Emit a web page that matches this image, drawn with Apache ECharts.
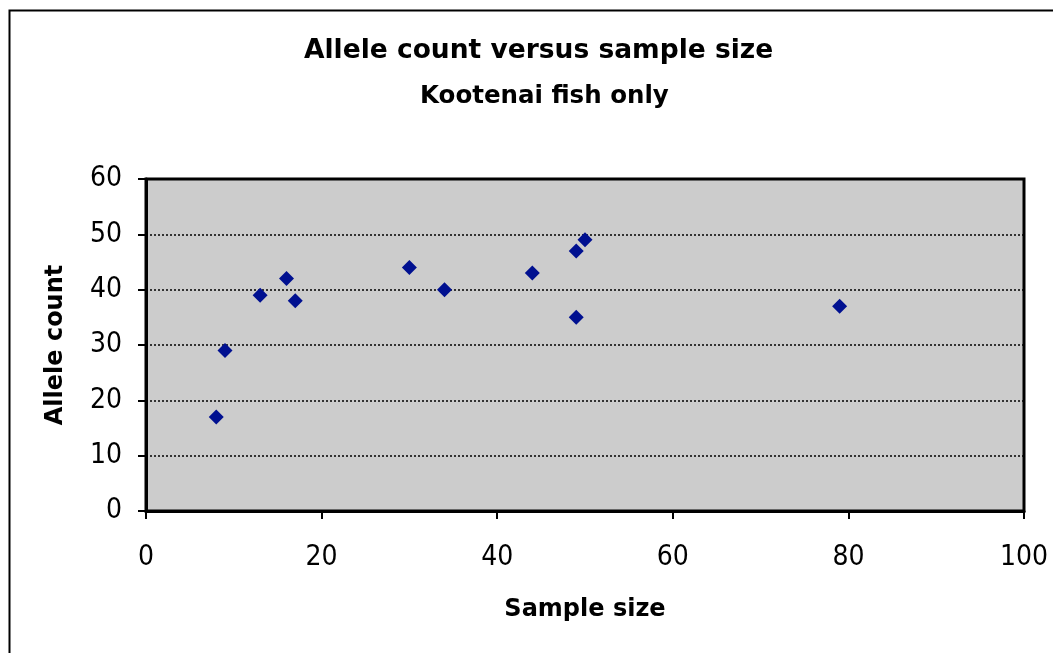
<!DOCTYPE html>
<html>
<head>
<meta charset="utf-8">
<title>Allele count versus sample size</title>
<script src="https://cdn.jsdelivr.net/npm/echarts@6/dist/echarts.min.js"></script>
<style>
  html, body { margin: 0; padding: 0; background: #fff; }
  #chart { width: 1053px; height: 653px; }
</style>
</head>
<body>
<div id="chart"></div>
<script>
// sample size (x) and allele count (y), Kootenai fish
const sampleSize = [8, 9, 13, 16, 17, 30, 34, 44, 49, 49, 50, 79]
const alleleCount = [17, 29, 39, 42, 38, 44, 40, 43, 35, 47, 49, 37]
const xTicks = [0, 20, 40, 60, 80, 100]
const yTicks = [0, 10, 20, 30, 40, 50, 60]

const tickFont = '"Liberation Sans Narrow", "DejaVu Sans Condensed", "Liberation Sans", sans-serif'
const boldFont = '"DejaVu Sans", "Liberation Sans", sans-serif'

const chart = echarts.init(document.getElementById('chart'))

chart.setOption({
  animation: false,
  backgroundColor: '#fff',
  title: [
    {
      text: 'Allele count versus sample size',
      left: 299,
      top: 33,
      textStyle: { fontFamily: boldFont, fontWeight: 'bold', fontSize: 26.5, color: '#000' }
    },
    {
      text: 'Kootenai fish only',
      left: 415,
      top: 79,
      textStyle: { fontFamily: boldFont, fontWeight: 'bold', fontSize: 24.5, color: '#000' }
    }
  ],
  graphic: [
    {
      type: 'rect',
      silent: true,
      z: -1,
      shape: { x: 9.5, y: 10.5, width: 1100, height: 700 },
      style: { fill: 'none', stroke: '#000', lineWidth: 2 }
    }
  ],
  grid: {
    left: 146,
    top: 179,
    right: 29,
    bottom: 142,
    show: true,
    backgroundColor: '#cccccc',
    borderColor: '#000',
    borderWidth: 3
  },
  xAxis: {
    type: 'value',
    min: xTicks[0],
    max: xTicks[xTicks.length - 1],
    interval: 20,
    name: 'Sample size',
    nameLocation: 'middle',
    nameGap: 87,
    nameTextStyle: { fontFamily: boldFont, fontWeight: 'bold', fontSize: 24, color: '#000' },
    axisLine: { show: true, lineStyle: { color: '#000', width: 3 } },
    axisTick: { show: true, length: 8, lineStyle: { color: '#000', width: 2 } },
    axisLabel: { margin: 33, fontFamily: tickFont, fontSize: 28, color: '#000' },
    splitLine: { show: false }
  },
  yAxis: {
    type: 'value',
    min: yTicks[0],
    max: yTicks[yTicks.length - 1],
    interval: 10,
    name: 'Allele count',
    nameLocation: 'middle',
    nameGap: 78,
    nameTextStyle: { fontFamily: boldFont, fontWeight: 'bold', fontSize: 24, color: '#000' },
    axisLine: { show: true, lineStyle: { color: '#000', width: 3 } },
    axisTick: { show: true, length: 8, lineStyle: { color: '#000', width: 2 } },
    axisLabel: { margin: 24, fontFamily: tickFont, fontSize: 28, color: '#000' },
    splitLine: { show: true, lineStyle: { color: '#000', type: [2, 2], width: 1.5 } }
  },
  series: [
    {
      type: 'scatter',
      symbol: 'diamond',
      symbolSize: 15,
      itemStyle: { color: '#001090', opacity: 1 },
      data: sampleSize.map((x, i) => [x, alleleCount[i]])
    }
  ]
})
</script>
</body>
</html>
